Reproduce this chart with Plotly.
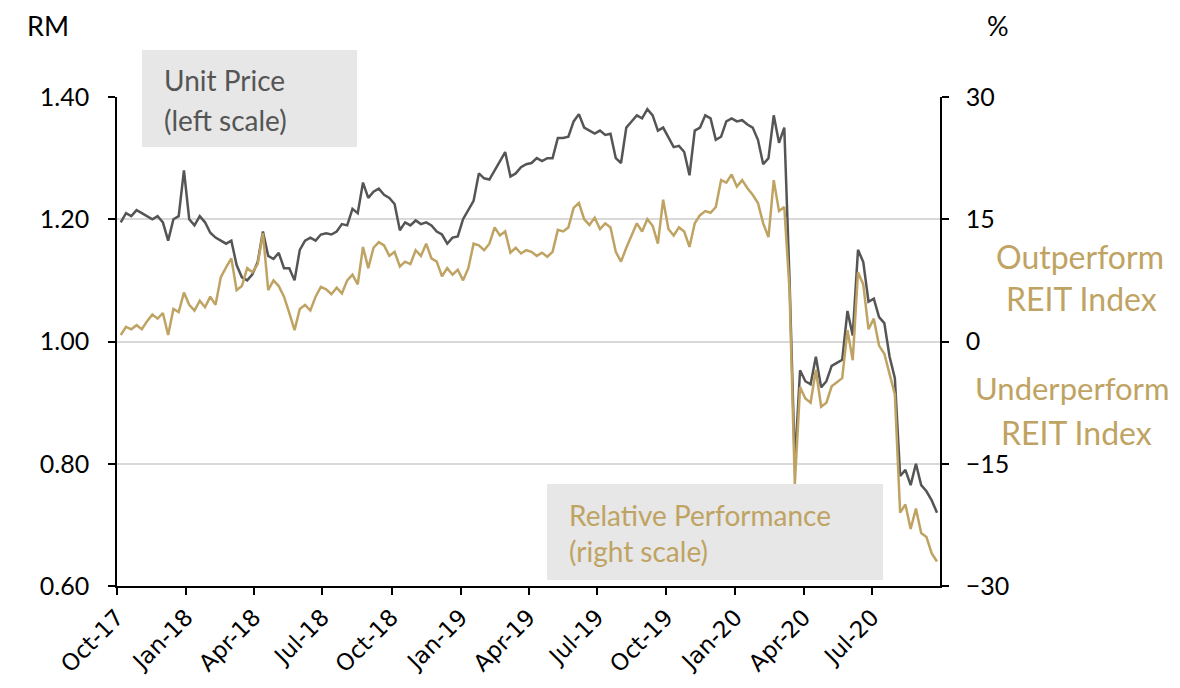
import pandas as pd
import plotly.graph_objects as go

dates = pd.date_range("2017-10-06", periods=156, freq="7D")

unit_price = [
    1.195, 1.21, 1.205, 1.215, 1.21, 1.205, 1.20, 1.205, 1.195, 1.165,
    1.20, 1.205, 1.28, 1.20, 1.19, 1.205, 1.195, 1.178, 1.17, 1.165,
    1.16, 1.165, 1.125, 1.105, 1.10, 1.11, 1.13, 1.18, 1.14, 1.135,
    1.145, 1.12, 1.12, 1.10, 1.15, 1.165, 1.17, 1.165, 1.175, 1.177,
    1.175, 1.18, 1.192, 1.19, 1.217, 1.21, 1.26, 1.235, 1.245, 1.25,
    1.24, 1.235, 1.225, 1.182, 1.195, 1.19, 1.198, 1.192, 1.195, 1.19,
    1.18, 1.175, 1.16, 1.17, 1.172, 1.20, 1.215, 1.23, 1.275, 1.267,
    1.265, 1.28, 1.297, 1.31, 1.27, 1.275, 1.285, 1.29, 1.292, 1.30,
    1.295, 1.30, 1.30, 1.333, 1.333, 1.335, 1.36, 1.372, 1.35, 1.345,
    1.34, 1.345, 1.338, 1.34, 1.30, 1.292, 1.35, 1.36, 1.37, 1.365,
    1.38, 1.37, 1.345, 1.35, 1.335, 1.318, 1.32, 1.31, 1.272, 1.345,
    1.35, 1.37, 1.365, 1.33, 1.335, 1.36, 1.365, 1.36, 1.362, 1.355,
    1.35, 1.33, 1.29, 1.30, 1.37, 1.325, 1.35, 1.10, 0.80, 0.953,
    0.935, 0.93, 0.975, 0.925, 0.935, 0.96, 0.965, 0.97, 1.05, 1.01,
    1.15, 1.13, 1.065, 1.07, 1.04, 1.03, 0.975, 0.94, 0.78, 0.79,
    0.765, 0.80, 0.765, 0.755, 0.74, 0.72,
]

relative_perf = [
    0.8, 1.8, 1.5, 2.0, 1.5, 2.5, 3.3, 2.8, 3.5, 0.8,
    4.0, 3.6, 6.0, 4.5, 3.8, 5.0, 4.2, 5.5, 4.5, 7.9,
    9.1, 10.2, 6.3, 6.8, 9.0, 8.5, 9.5, 13.3, 6.3, 7.5,
    6.8, 5.5, 3.5, 1.4, 4.0, 4.5, 3.8, 5.5, 6.7, 6.4,
    5.8, 6.6, 5.9, 7.5, 8.2, 7.0, 11.6, 9.0, 11.5, 12.2,
    11.8, 10.5, 11.0, 9.2, 9.8, 9.5, 11.2, 10.5, 12.0, 10.2,
    9.8, 8.0, 9.0, 8.2, 8.8, 7.5, 9.0, 12.0, 11.8, 11.2,
    12.0, 14.0, 13.0, 13.5, 10.9, 11.5, 10.8, 11.2, 11.0, 10.5,
    10.9, 10.4, 11.0, 13.7, 13.5, 14.0, 16.4, 17.0, 15.0, 14.3,
    15.2, 13.8, 14.5, 14.0, 11.0, 9.8, 11.5, 13.0, 14.5, 13.5,
    15.0, 14.2, 12.0, 17.4, 13.8, 13.0, 14.0, 13.5, 11.6, 14.5,
    15.5, 16.0, 15.8, 16.5, 19.8, 19.5, 20.5, 19.0, 19.8, 18.8,
    18.0, 17.0, 14.5, 12.8, 19.8, 16.0, 16.5, 6.3, -17.5, -5.6,
    -7.0, -7.5, -3.5, -8.0, -7.5, -5.5, -5.0, -4.5, 1.4, -2.3,
    8.5, 7.0, 1.5, 2.8, -0.5, -1.5, -4.0, -6.5, -21.0, -20.0,
    -23.0, -20.5, -23.5, -24.0, -26.0, -27.0,
]

tick_dates = ["2017-10-01", "2018-01-01", "2018-04-01", "2018-07-01", "2018-10-01",
              "2019-01-01", "2019-04-01", "2019-07-01", "2019-10-01", "2020-01-01",
              "2020-04-01", "2020-07-01"]
tick_labels = ["Oct-17", "Jan-18", "Apr-18", "Jul-18", "Oct-18", "Jan-19",
               "Apr-19", "Jul-19", "Oct-19", "Jan-20", "Apr-20", "Jul-20"]

GREY = "#555555"
GOLD = "#BFA363"
BOX = "#E7E7E7"

fig = go.Figure()
fig.add_trace(go.Scatter(x=dates, y=unit_price, mode="lines", name="Unit Price",
                         line=dict(color=GREY, width=2.5)))
fig.add_trace(go.Scatter(x=dates, y=relative_perf, mode="lines", name="Relative Performance",
                         line=dict(color=GOLD, width=2.5), yaxis="y2"))

# page has an 8px body margin, so figure pixels = screen pixels - 8
OFF = 8
W, H = 1180 - OFF, 688 - OFF
L, R, T, B = 117 - OFF, 940 - OFF, 97 - OFF, 586 - OFF
def px(x):
    return (x - OFF - L) / (R - L)
def py(y):
    return (B - (y - OFF)) / (B - T)

fig.add_shape(type="rect", xref="paper", yref="paper", x0=px(142), x1=px(357),
              y0=py(147), y1=py(50), fillcolor=BOX, line_width=0, layer="above")
fig.add_shape(type="rect", xref="paper", yref="paper", x0=px(547), x1=px(883),
              y0=py(580), y1=py(484), fillcolor=BOX, line_width=0, layer="above")

notes = [
    ("Unit Price", 163, 80, GREY, "left", "middle", 28),
    ("(left scale)", 163, 120, GREY, "left", "middle", 28),
    ("Relative Performance", 568, 515, GOLD, "left", "middle", 28),
    ("(right scale)", 568, 551, GOLD, "left", "middle", 28),
    ("Outperform", 1080, 256, GOLD, "center", "middle", 32),
    ("REIT Index", 1081, 298, GOLD, "center", "middle", 32),
    ("Underperform", 1072, 388, GOLD, "center", "middle", 31),
    ("REIT Index", 1076, 432, GOLD, "center", "middle", 32),
    ("RM", 48, 8, "black", "center", "top", 27),
    ("%", 998, 8, "black", "center", "top", 27),
]
for text, x, y, col, al, va, size in notes:
    fig.add_annotation(text=text, xref="paper", yref="paper", x=px(x), y=py(y),
                       xanchor=al, yanchor=va, showarrow=False, borderpad=0,
                       font=dict(family="Lato, Open Sans, sans-serif", size=size, color=col))

fig.update_layout(
    width=W, height=H,
    margin=dict(l=L, r=W - R, t=T, b=H - B),
    paper_bgcolor="white", plot_bgcolor="white",
    showlegend=False,
    xaxis=dict(type="date", range=["2017-10-01", "2020-09-29"],
               tickvals=tick_dates, ticktext=tick_labels, tickangle=-45,
               tickfont=dict(family="DejaVu Sans", size=23, color="black"),
               showgrid=False, showline=True, linecolor="black", linewidth=1.5,
               ticks="outside", ticklen=7, tickcolor="black", tickwidth=1.5,
               zeroline=False, automargin=False),
    yaxis=dict(range=[0.6, 1.4], dtick=0.2, tick0=0.6, tickformat=".2f",
               tickfont=dict(family="Lato, sans-serif", size=25, color="black"),
               showgrid=True, gridcolor="#D9D9D9", gridwidth=2,
               showline=True, linecolor="black", linewidth=1.5,
               ticks="outside", ticklen=7, tickcolor="black", tickwidth=1.5,
               ticklabelstandoff=14, zeroline=False, automargin=False),
    yaxis2=dict(range=[-30, 30], dtick=15, tick0=-30, overlaying="y", side="right",
                tickfont=dict(family="Lato, sans-serif", size=25, color="black"),
                showgrid=False, showline=True, linecolor="black", linewidth=1.5,
                ticks="outside", ticklen=7, tickcolor="black", tickwidth=1.5,
                ticklabelstandoff=12, zeroline=False, automargin=False),
)

fig.write_html("out.html")
